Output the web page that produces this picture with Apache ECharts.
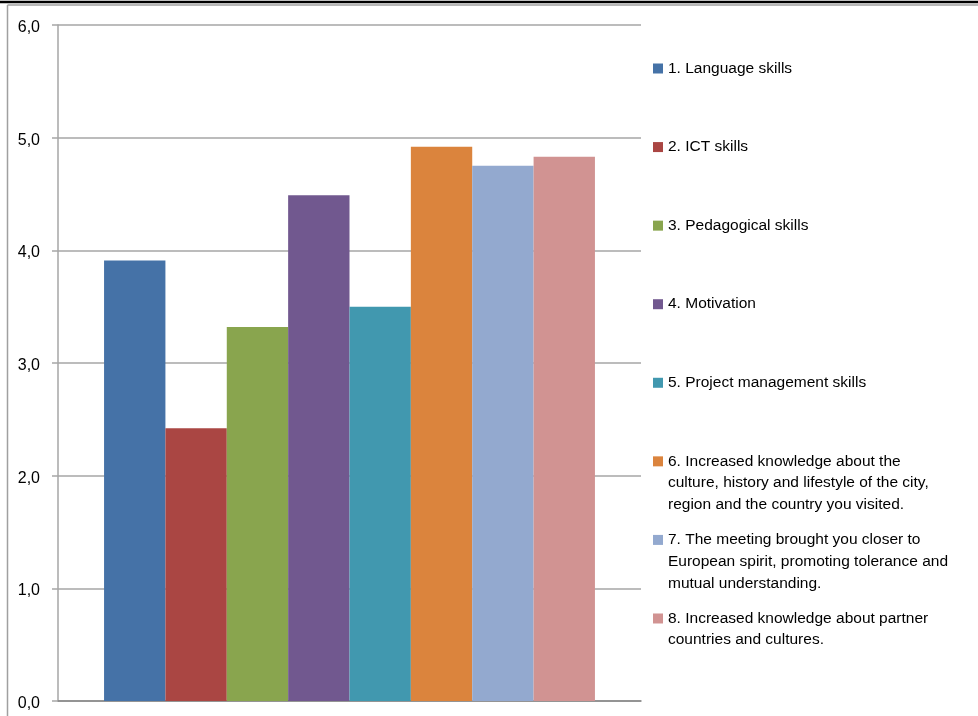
<!DOCTYPE html>
<html>
<head>
<meta charset="utf-8">
<script src="https://cdn.jsdelivr.net/npm/echarts@6/dist/echarts.min.js"></script>
<style>
  html, body { margin: 0; padding: 0; background: #fff; }
  #chart { width: 978px; height: 716px; }
</style>
</head>
<body>
<div id="chart"></div>
<script>
// ---- data ----
var categories = [''];
var seriesNames = [
  '1. Language skills',
  '2. ICT skills',
  '3. Pedagogical skills',
  '4. Motivation',
  '5. Project management skills',
  '6. Increased knowledge about the\nculture, history and lifestyle of the city,\nregion and the country you visited.',
  '7. The meeting brought you closer to\nEuropean spirit, promoting tolerance and\nmutual understanding.',
  '8. Increased knowledge about partner\ncountries and cultures.'
];
var seriesValues = [3.91, 2.42, 3.32, 4.49, 3.50, 4.92, 4.75, 4.83];
var seriesColors = ['#4572A7', '#AA4643', '#89A54E', '#71588F', '#4198AF', '#DB843D', '#93A9CF', '#D19392'];
var yTicks = [0, 1, 2, 3, 4, 5, 6];

// ---- chart ----
var FONT = 'Liberation Sans';
var LINE_H = 21.7;
var LEG_FIRST = 68.5, LEG_STEP = 78.57;

var series = seriesNames.map(function (name, i) {
  return {
    name: name,
    type: 'bar',
    data: [seriesValues[i]],
    itemStyle: { color: seriesColors[i] },
    barGap: '0%',
    barCategoryGap: '15.8%'
  };
});

function leadBlank(name) {
  var n = name.split('\n').length;
  var s = '';
  for (var k = 1; k < n; k++) s += ' \n';
  return s + name;
}

var legends = seriesNames.map(function (name, i) {
  var n = name.split('\n').length;
  var c = LEG_FIRST + i * LEG_STEP;
  return {
    data: [name],
    orient: 'vertical',
    left: 653,
    top: c - (2 * n - 1) * LINE_H / 2,
    padding: 0,
    itemWidth: 10,
    itemHeight: 10,
    icon: 'rect',
    selectedMode: false,
    formatter: leadBlank,
    textStyle: {
      fontFamily: FONT,
      fontSize: 15.5,
      color: '#000',
      lineHeight: LINE_H
    }
  };
});

var chart = echarts.init(document.getElementById('chart'));
chart.setOption({
  animation: false,
  backgroundColor: '#fff',
  grid: { left: 58, top: 25, right: 337, bottom: 15, containLabel: false },
  xAxis: {
    type: 'category',
    data: categories,
    axisLine: { show: true, lineStyle: { color: '#868686', width: 1.5 } },
    axisTick: { show: false },
    axisLabel: { show: false },
    splitLine: { show: false }
  },
  yAxis: {
    type: 'value',
    min: yTicks[0],
    max: yTicks[yTicks.length - 1],
    interval: 1,
    axisLine: { show: true, lineStyle: { color: '#a6a6a6', width: 1.5 } },
    axisTick: { show: true, length: 6, lineStyle: { color: '#a6a6a6', width: 1.5 } },
    axisLabel: {
      margin: 18,
      fontFamily: FONT,
      fontSize: 16,
      color: '#000',
      formatter: function (v) { return '{v|' + v.toFixed(1).replace('.', ',') + '}'; },
      rich: {
        v: { fontFamily: FONT, fontSize: 16, color: '#000', padding: [5, 0, 0, 0] }
      }
    },
    splitLine: { show: true, lineStyle: { color: '#a6a6a6', width: 1.5 } }
  },
  legend: legends,
  series: series,
  graphic: [
    { type: 'line', silent: true, z: 100, shape: { x1: 0, y1: 2, x2: 978, y2: 2 }, style: { stroke: '#000', lineWidth: 2.5 } },
    { type: 'line', silent: true, z: 100, shape: { x1: 7.5, y1: 5, x2: 978, y2: 5 }, style: { stroke: '#a0a0a0', lineWidth: 1.5 } },
    { type: 'line', silent: true, z: 100, shape: { x1: 7.5, y1: 5, x2: 7.5, y2: 716 }, style: { stroke: '#a0a0a0', lineWidth: 1.5 } }
  ]
});
</script>
</body>
</html>
